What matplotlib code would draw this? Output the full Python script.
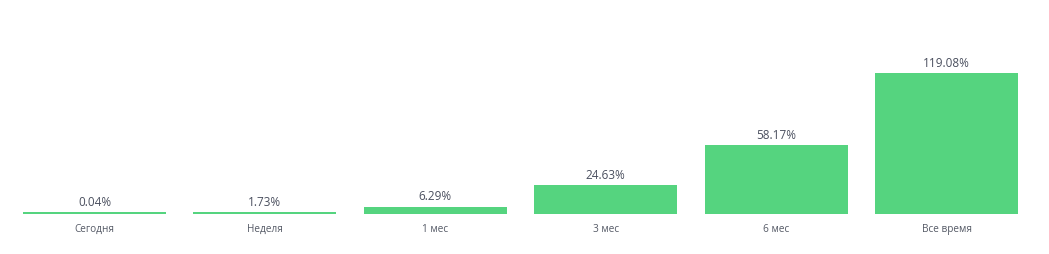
import matplotlib
matplotlib.use("Agg")
import matplotlib.pyplot as plt

categories = ["Сегодня", "Неделя", "1 мес", "3 мес", "6 мес", "Все время"]
values = [0.04, 1.73, 6.29, 24.63, 58.17, 119.08]
value_labels = ["0.04%", "1.73%", "6.29%", "24.63%", "58.17%", "119.08%"]

plt.rcParams['font.family'] = ['Open Sans', 'DejaVu Sans']

W, H = 1049, 254
fig = plt.figure(figsize=(W / 100, H / 100), dpi=100)
base_px = 214
ax = fig.add_axes([9.3 / W, (H - base_px) / H, (1031.7 - 9.3) / W, base_px / H])
ax.set_xlim(-0.5, len(categories) - 0.5)
px_per_unit = 141 / 119.08
ax.set_ylim(0, base_px / px_per_unit)

min_h = 1.6 / px_per_unit
heights = [max(v, min_h) for v in values]
x = list(range(len(categories)))
ax.bar(x, heights, width=0.84, color="#55d47f", linewidth=0)

for xi, h, lab in zip(x, heights, value_labels):
    ax.annotate(lab, (xi, h), xytext=(0, 2.2), textcoords="offset points",
                ha="center", va="bottom", fontsize=8.5, color="#4a4f5e")

ax.set_xticks(x)
ax.set_xticklabels(categories, fontsize=7.2, color="#555a66")
ax.tick_params(axis="x", length=0, pad=7)
ax.set_yticks([])
for s in ax.spines.values():
    s.set_visible(False)

fig.savefig("out.png", dpi=100, facecolor="white")
